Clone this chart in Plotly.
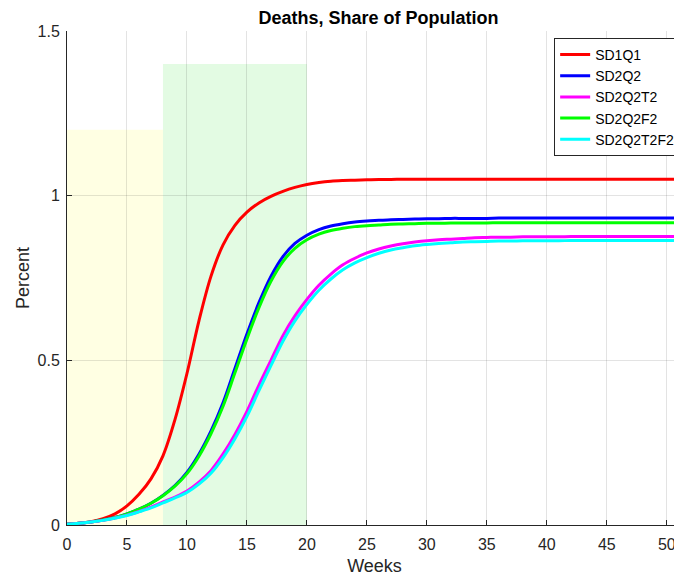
import plotly.graph_objects as go

weeks = list(range(0, 53))

sd1q1 = [0.002, 0.005, 0.010, 0.019, 0.034, 0.058, 0.093, 0.140, 0.210, 0.320,
         0.460, 0.620, 0.755, 0.850, 0.910, 0.950, 0.978, 0.998, 1.013, 1.025,
         1.034, 1.040, 1.044, 1.046, 1.047, 1.048, 1.049, 1.049, 1.050, 1.050,
         1.050, 1.050, 1.050, 1.050, 1.050, 1.050, 1.050, 1.050, 1.050, 1.050,
         1.050, 1.050, 1.050, 1.050, 1.050, 1.050, 1.050, 1.050, 1.050, 1.050,
         1.050, 1.050, 1.050]

sd2q2 = [0.002, 0.005, 0.009, 0.015, 0.023, 0.034, 0.048, 0.066, 0.090, 0.120,
         0.160, 0.215, 0.285, 0.370, 0.475, 0.580, 0.675, 0.755, 0.815, 0.855,
         0.880, 0.897, 0.908, 0.915, 0.920, 0.923, 0.925, 0.927, 0.928, 0.929,
         0.930, 0.930, 0.931, 0.931, 0.931, 0.931, 0.932, 0.932, 0.932, 0.932,
         0.932, 0.932, 0.932, 0.932, 0.932, 0.932, 0.932, 0.932, 0.932, 0.932,
         0.932, 0.932, 0.932]

sd2q2t2 = [0.002, 0.005, 0.009, 0.014, 0.021, 0.030, 0.041, 0.054, 0.070, 0.085,
           0.103, 0.130, 0.165, 0.215, 0.275, 0.345, 0.425, 0.500, 0.575, 0.635,
           0.685, 0.728, 0.762, 0.790, 0.810, 0.826, 0.838, 0.847, 0.854, 0.859,
           0.863, 0.866, 0.868, 0.870, 0.872, 0.873, 0.874, 0.874, 0.875, 0.875,
           0.875, 0.875, 0.876, 0.876, 0.876, 0.876, 0.876, 0.876, 0.876, 0.876,
           0.876, 0.876, 0.876]

sd2q2f2 = [0.002, 0.005, 0.009, 0.015, 0.023, 0.034, 0.048, 0.066, 0.089, 0.118,
           0.156, 0.209, 0.277, 0.360, 0.462, 0.565, 0.660, 0.740, 0.800, 0.840,
           0.866, 0.883, 0.894, 0.901, 0.906, 0.909, 0.911, 0.913, 0.914, 0.915,
           0.916, 0.916, 0.917, 0.917, 0.917, 0.917, 0.918, 0.918, 0.918, 0.918,
           0.918, 0.918, 0.918, 0.918, 0.918, 0.918, 0.918, 0.918, 0.918, 0.918,
           0.918, 0.918, 0.918]

sd2q2t2f2 = [0.002, 0.005, 0.009, 0.014, 0.021, 0.029, 0.040, 0.052, 0.067, 0.082,
             0.099, 0.124, 0.157, 0.204, 0.262, 0.330, 0.408, 0.484, 0.558, 0.620,
             0.670, 0.713, 0.747, 0.775, 0.796, 0.812, 0.825, 0.835, 0.842, 0.848,
             0.852, 0.855, 0.857, 0.859, 0.860, 0.861, 0.862, 0.862, 0.863, 0.863,
             0.863, 0.863, 0.864, 0.864, 0.864, 0.864, 0.864, 0.864, 0.864, 0.864,
             0.864, 0.864, 0.864]

series_names = ["SD1Q1", "SD2Q2", "SD2Q2T2", "SD2Q2F2", "SD2Q2T2F2"]
series_values = [sd1q1, sd2q2, sd2q2t2, sd2q2f2, sd2q2t2f2]
series_colors = ["#ff0000", "#0000ff", "#ff00ff", "#00ff00", "#00ffff"]

# shaded policy periods: (start week, end week, height)
phase1 = (0, 8, 1.2)
phase2 = (8, 20, 1.4)

x_ticks = [0, 5, 10, 15, 20, 25, 30, 35, 40, 45, 50]
y_ticks = [0, 0.5, 1, 1.5]
y_tick_labels = ["0", "0.5", "1", "1.5"]

fig = go.Figure()

order = [0, 1, 3, 2, 4]
for i in order:
    fig.add_trace(go.Scatter(
        x=weeks, y=series_values[i], mode="lines", name=series_names[i],
        line=dict(color=series_colors[i], width=3, shape="spline"),
        legendrank=i + 1,
    ))

fig.add_shape(type="rect", x0=phase1[0], x1=phase1[1], y0=0, y1=phase1[2],
              xref="x", yref="y", fillcolor="#ffffe3", line=dict(width=0), layer="below")
fig.add_shape(type="rect", x0=phase2[0], x1=phase2[1], y0=0, y1=phase2[2],
              xref="x", yref="y", fillcolor="#e3fbe3", line=dict(width=0), layer="below")

font_family = "Liberation Sans, Arial, Helvetica, sans-serif"

fig.update_layout(
    width=682, height=579,
    margin=dict(l=59, r=8, t=23, b=62, autoexpand=False),
    paper_bgcolor="white", plot_bgcolor="white",
    font=dict(family=font_family, size=16, color="#262626"),
    title=dict(text="<b>Deaths, Share of Population</b>", x=370.5 / 682, xanchor="center",
               y=1 - 10 / 579, yanchor="middle", yref="container",
               font=dict(size=18, color="#000000")),
    showlegend=True,
    legend=dict(x=0.997, y=0.986, xanchor="right", yanchor="top",
                bgcolor="white", bordercolor="#262626", borderwidth=1,
                font=dict(size=14, color="#000000"), itemwidth=30,
                tracegroupgap=0, traceorder="normal"),
)

fig.update_xaxes(
    range=[0, 51.27], tickvals=x_ticks, ticks="inside", ticklen=5, tickcolor="#262626",
    showline=True, linecolor="#262626", linewidth=1, mirror=False, automargin=False,
    showgrid=True, gridcolor="rgba(38,38,38,0.13)", gridwidth=1, zeroline=False,
    title=dict(text="Weeks", font=dict(size=18, color="#262626"), standoff=7),
    tickfont=dict(size=16, color="#262626"), ticklabelstandoff=5,
)
fig.update_yaxes(
    range=[0, 1.5], tickvals=y_ticks, ticktext=y_tick_labels, ticks="inside", ticklen=5,
    tickcolor="#262626", showline=True, linecolor="#262626", linewidth=1, mirror=False,
    automargin=False,
    showgrid=True, gridcolor="rgba(38,38,38,0.13)", gridwidth=1, zeroline=False,
    title=dict(text="Percent", font=dict(size=18, color="#262626"), standoff=3),
    tickfont=dict(size=16, color="#262626"), ticklabelstandoff=3,
)

fig.write_html("out.html")
